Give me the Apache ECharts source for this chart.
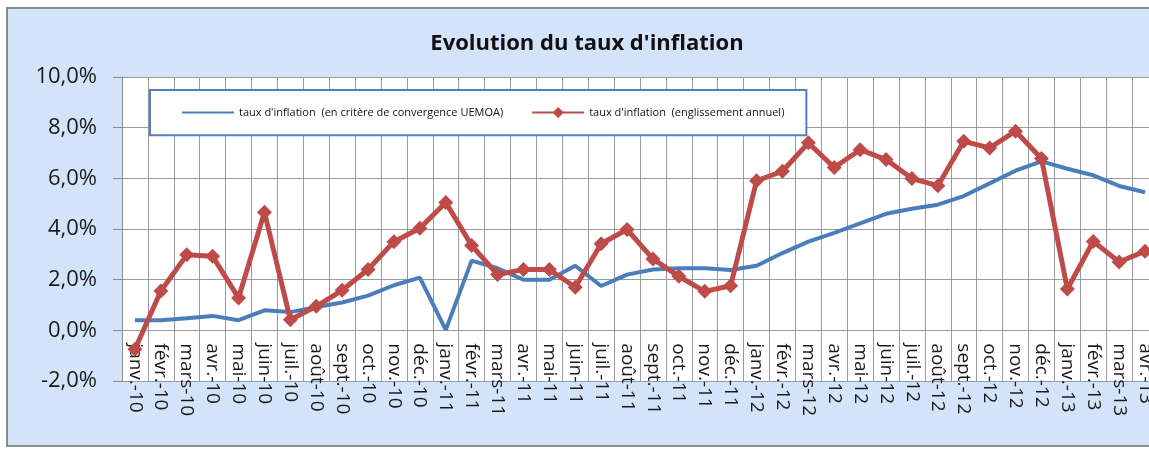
<!DOCTYPE html>
<html lang="fr">
<head>
    <meta charset="UTF-8">
    <title>Evolution du taux d'inflation</title>
    <script type="text/javascript" src="https://cdn.jsdelivr.net/npm/echarts@6/dist/echarts.min.js"></script>
    <style type="text/css">
        body { margin: 0; background: #ffffff; }
        #frame {
            position: absolute; left: 6px; top: 7px;
            width: 1160px; height: 440px;
            box-sizing: border-box;
            border: 2px solid #8c8c8c;
            background: #d3e4fa;
        }
        #main { position: absolute; left: 0; top: 0; width: 1149px; height: 452px; }
    </style>
</head>
<body>
<div id="frame"></div>
<div id="main"></div>
<script type="text/javascript">
    // mois (étiquettes de l'axe)
    var mois = [
        'janv.-10', 'févr.-10', 'mars-10', 'avr.-10', 'mai-10', 'juin-10',
        'juil.-10', 'août-10', 'sept.-10', 'oct.-10', 'nov.-10', 'déc.-10',
        'janv.-11', 'févr.-11', 'mars-11', 'avr.-11', 'mai-11', 'juin-11',
        'juil.-11', 'août-11', 'sept.-11', 'oct.-11', 'nov.-11', 'déc.-11',
        'janv.-12', 'févr.-12', 'mars-12', 'avr.-12', 'mai-12', 'juin-12',
        'juil.-12', 'août-12', 'sept.-12', 'oct.-12', 'nov.-12', 'déc.-12',
        'janv.-13', 'févr.-13', 'mars-13', 'avr.-13'
    ];
    // taux d'inflation (en critère de convergence UEMOA), en %
    var convergence = [
        0.4, 0.4, 0.48, 0.57, 0.4, 0.79, 0.72, 0.92, 1.1, 1.37, 1.78, 2.08,
        0.02, 2.75, 2.45, 2.0, 2.0, 2.55, 1.75, 2.2, 2.4, 2.45, 2.45, 2.38,
        2.55, 3.05, 3.5, 3.85, 4.22, 4.6, 4.8, 4.96, 5.3, 5.8, 6.3, 6.67,
        6.38, 6.12, 5.7, 5.45
    ];
    // taux d'inflation (glissement annuel), en %
    var glissement = [
        -0.75, 1.55, 2.98, 2.92, 1.28, 4.66, 0.42, 0.95, 1.58, 2.4, 3.5, 4.03,
        5.05, 3.35, 2.2, 2.4, 2.4, 1.7, 3.42, 3.98, 2.82, 2.13, 1.54, 1.76,
        5.9, 6.28, 7.4, 6.43, 7.13, 6.74, 5.99, 5.71, 7.46, 7.2, 7.86, 6.78,
        1.63, 3.51, 2.7, 3.12
    ];
    var nomBleu = "taux d'inflation  (en critère de convergence UEMOA)";
    var nomRouge = "taux d'inflation  (englissement annuel)";

    var plotH = 304;
    var chart = echarts.init(document.getElementById('main'));
    chart.setOption({
        animation: false,
        title: {
            text: "Evolution du taux d'inflation",
            left: 582,
            textAlign: 'center',
            top: 28,
            textStyle: { fontFamily: 'Open Sans', fontSize: 22, fontWeight: 'bold', color: '#111' }
        },
        legend: {
            left: 150,
            top: 90,
            orient: 'horizontal',
            backgroundColor: '#ffffff',
            borderColor: '#4f81bd',
            borderWidth: 2,
            borderRadius: 0,
            padding: [17, 22, 17, 31],
            itemWidth: 52,
            itemHeight: 14,
            itemGap: 28,
            textStyle: { fontFamily: 'Open Sans', fontSize: 11, color: '#111' },
            data: [
                { name: nomBleu, itemStyle: { opacity: 0 } },
                { name: nomRouge }
            ]
        },
        grid: {
            left: 122,
            top: 77,
            width: 1036,
            height: plotH,
            outerBoundsMode: 'none',
            show: true,
            backgroundColor: '#ffffff',
            borderWidth: 0
        },
        xAxis: {
            type: 'category',
            data: mois,
            boundaryGap: true,
            // étiquettes au niveau de 0 %
            offset: -plotH / 6,
            axisLine: { onZero: false, lineStyle: { color: '#9a9a9a', width: 1 } },
            axisTick: { show: false },
            splitLine: { show: true, lineStyle: { color: '#9a9a9a', width: 1 } },
            axisLabel: {
                interval: 0,
                rotate: -90,
                margin: 13,
                fontFamily: 'Open Sans',
                fontSize: 19,
                color: '#1a1a1a'
            }
        },
        yAxis: {
            type: 'value',
            min: -2,
            max: 10,
            interval: 2,
            axisLine: { show: true, lineStyle: { color: '#8c8c8c', width: 1 } },
            axisTick: { show: true, length: 9, lineStyle: { color: '#8c8c8c' } },
            splitLine: { show: true, lineStyle: { color: '#9a9a9a', width: 1 } },
            axisLabel: {
                margin: 25,
                fontFamily: 'Open Sans',
                fontSize: 22,
                color: '#1a1a1a',
                formatter: function (v) { return v.toFixed(1).replace('.', ',') + '%'; }
            }
        },
        series: [
            {
                name: nomBleu,
                type: 'line',
                data: convergence,
                symbol: 'none',
                color: '#4a7ebb',
                lineStyle: { color: '#4a7ebb', width: 4 }
            },
            {
                name: nomRouge,
                type: 'line',
                data: glissement,
                symbol: 'diamond',
                symbolSize: 15,
                color: '#be4b48',
                itemStyle: { color: '#be4b48' },
                lineStyle: { color: '#be4b48', width: 5 }
            }
        ]
    });
</script>
</body>
</html>
